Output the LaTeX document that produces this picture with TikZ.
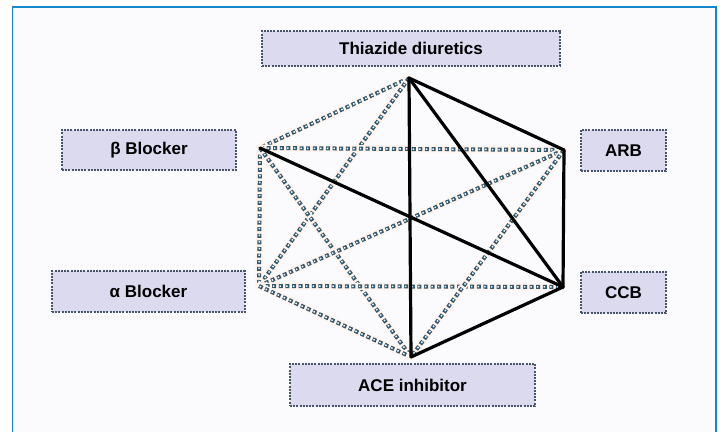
\documentclass[tikz,border=0pt]{standalone}
\usepackage{fontspec}
\setmainfont{Liberation Sans}
\definecolor{framec}{RGB}{20,135,205}
\definecolor{bgc}{RGB}{251,251,253}
\definecolor{boxfill}{RGB}{220,218,238}
\definecolor{boxedge}{RGB}{70,85,105}
\definecolor{dotc}{RGB}{50,88,110}
\definecolor{haloc}{RGB}{255,244,238}
\tikzset{
  drugbox/.style={draw=boxedge, fill=boxfill, line width=1.3pt,
    dash pattern=on 2pt off 1.2pt, inner sep=0pt, outer sep=0pt,
    font=\fontsize{17}{19}\selectfont\bfseries},
  halo/.style={draw=haloc, line width=7pt, line cap=round},
  dotout/.style={draw=dotc, line width=4pt, dash pattern=on 4pt off 2.6pt},
  dotin/.style={draw=bgc, line width=1.5pt, dash pattern=on 1.5pt off 5.1pt, dash phase=5.85pt},
  solidl/.style={draw=black, line width=3.2pt, line cap=round, line join=round}
}
\newcommand{\dotted}[2]{%
  \draw[halo] (#1) -- (#2);
  \draw[dotout] (#1) -- (#2);
  \draw[dotin] (#1) -- (#2);}
\begin{document}
\begin{tikzpicture}[x=1pt,y=-1pt]
\useasboundingbox (0,0) rectangle (722,431);
\fill[white] (0,0) rectangle (722,431);
\draw[framec, line width=1.8pt, fill=bgc] (12.5,7) rectangle (716,440);

% boxes
\node[drugbox, minimum width=298pt, minimum height=35pt] (thz) at (411,48.5) {Thiazide diuretics};
\node[drugbox, minimum width=174pt, minimum height=40pt] (bb) at (149,150) {β Blocker};
\node[drugbox, minimum width=85pt, minimum height=41pt] (arb) at (623.5,150.5) {ARB};
\node[drugbox, minimum width=193pt, minimum height=41pt] (ab) at (148.5,291.5) {α Blocker};
\node[drugbox, minimum width=85pt, minimum height=41pt] (ccb) at (623.5,292.5) {CCB};
\node[drugbox, minimum width=245pt, minimum height=42pt] (ace) at (412.5,385) {ACE inhibitor};

% hexagon vertices
\coordinate (vT) at (409,78);
\coordinate (vUL) at (260,148);
\coordinate (vUR) at (564,150);
\coordinate (vLL) at (259,286);
\coordinate (vLR) at (563,287);
\coordinate (vB) at (411,357);

% dotted connections
\dotted{vT}{vUL}
\dotted{vT}{vLL}
\dotted{vUL}{vUR}
\dotted{vUL}{vLL}
\dotted{vUL}{vB}
\dotted{vLL}{vUR}
\dotted{vLL}{vLR}
\dotted{vLL}{vB}
\dotted{vUR}{vB}

% solid connections
\draw[solidl] (vT) -- (vUR);
\draw[solidl] (vT) -- (vLR);
\draw[solidl] (vT) -- (vB);
\draw[solidl] (vUR) -- (vLR);
\draw[solidl] (vUL) -- (vLR);
\draw[solidl] (vLR) -- (vB);
\end{tikzpicture}
\end{document}
